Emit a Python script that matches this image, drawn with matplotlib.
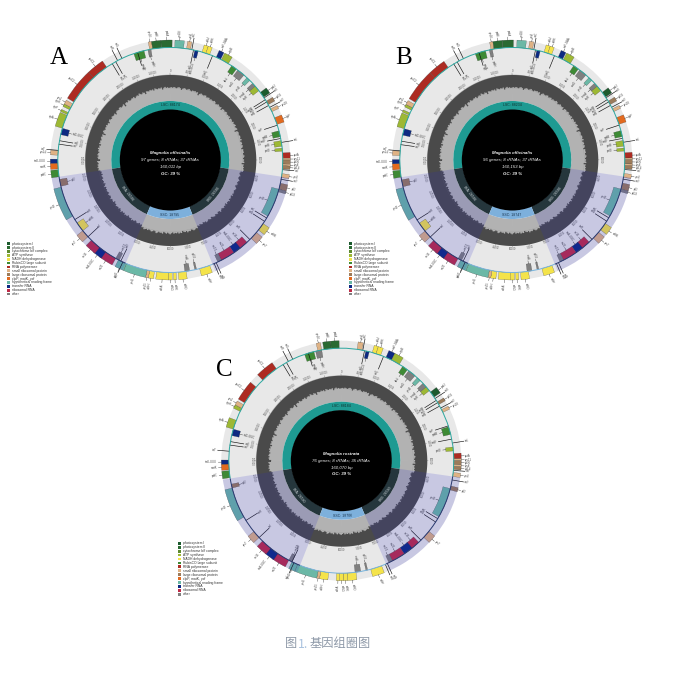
import numpy as np
import matplotlib
matplotlib.use("Agg")
import matplotlib.pyplot as plt

nan = float("nan")

legend_labels = ["photosystem I", "photosystem II", "cytochrome b/f complex", "ATP synthase",
                 "NADH dehydrogenase", "RubisCO large subunit", "RNA polymerase",
                 "small ribosomal protein", "large ribosomal protein", "clpP, matK, ycf",
                 "hypothetical reading frame", "transfer RNA", "ribosomal RNA", "other"]
group_codes = ["p1", "p2", "cy", "at", "nd", "rb", "rp", "sr", "lr", "cl", "hy", "tr", "rr", "ot"]
group_colors = ["#1c5a2e", "#2a6a32", "#5d8a2e", "#9db834", "#f4e34a", "#3e8a35", "#ad2b22",
                "#dfb284", "#9c7b5a", "#e26a1f", "#6bb8a6", "#0d2a82", "#bf2b47", "#7f7f7f"]

gene_names = ["rps16", "psbK", "psbA", "ycf68", "rps4", "trnS-GCU", "ndhJ", "ndhK", "trnF-GAA", "atpB",
              "rbcL", "accD", "ycf4", "cemA", "atpE", "psbJ", "rpl33", "rps18", "clpP", "psbB",
              "petB", "petD", "rpoA", "rps11", "rpl36", "rps8", "rpl14", "rps3", "rpl2", "rpl23",
              "ycf2", "ndhB", "rps7", "rrn16", "trnA-UGC", "rrn23", "rrn4.5", "ndhF", "rpl32", "ccsA",
              "ndhD", "ndhE", "ndhG", "ndhA", "ndhH", "rps15", "ycf1", "ycf1", "rrn4.5", "rrn23",
              "trnA-UGC", "rrn16", "rps7", "ndhB", "ycf2", "rpl2", "psbC", "matK", "trnK-UUU", "rps14",
              "trnD-GUC", "atpA", "atpF", "atpH", "rps2", "rpoC2", "rpoC1", "psaA", "psbH"]
gene_groups = ["sr", "p2", "p2", "hy", "sr", "tr", "nd", "nd", "tr", "at",
               "rb", "ot", "hy", "ot", "at", "p1", "lr", "sr", "cl", "rb",
               "at", "at", "rp", "sr", "lr", "sr", "lr", "sr", "lr", "ot",
               "hy", "nd", "sr", "rr", "tr", "rr", "ot", "nd", "ot", "ot",
               "nd", "nd", "nd", "nd", "nd", "sr", "hy", "hy", "ot", "rr",
               "tr", "rr", "sr", "nd", "hy", "lr", "rb", "cl", "tr", "sr",
               "tr", "at", "at", "at", "sr", "rp", "rp", "rb", "ot"]
gene_sides = list("oooooioooo" "iiiiiooooi" "iioooooooo" "iooiiiioii"
                  "ooooooooio" "oooioioooo" "iooooooii")

a_start = [155.3, 156.0, 158.0, 1.0, 3.7, 5.6, 7.3, 8.2, 10.7, 12.0,
           14.7, 16.4, 19.1, 20.9, 21.8, 23.6, 26.0, 28.0, 30.2, 33.3,
           35.6, 37.3, 38.4, 39.6, 40.0, 40.9, 41.3, 43.1, 45.3, 46.7,
           46.7, 55.3, 57.8, 60.9, 62.9, 64.7, 68.0, 70.9, 74.0, 75.6,
           76.4, 78.7, 79.6, 80.4, 83.6, 84.7, 85.3, 90.2, 92.0, 92.9,
           95.6, 97.3, 100.9, 102.7, 106.7, 114.0, 116.2, 118.0, 119.3, 121.1,
           125.8, 127.3, 130.6, 131.8, 132.4, 133.8, 140.9, 151.6, 154.9]
a_end = [156.0, 158.0, 160.4, 3.0, 4.6, 6.4, 8.2, 9.1, 11.8, 13.8,
         16.0, 18.2, 20.0, 21.8, 23.1, 24.9, 26.9, 28.7, 31.8, 34.7,
         36.9, 38.0, 39.6, 40.0, 40.9, 41.3, 42.0, 44.0, 46.7, 47.3,
         53.3, 57.1, 59.6, 63.1, 64.7, 68.0, 68.9, 73.3, 74.4, 76.7,
         78.2, 79.3, 80.4, 83.1, 84.7, 85.3, 90.2, 92.2, 92.9, 96.2,
         97.8, 99.8, 102.7, 104.9, 113.8, 115.6, 117.8, 119.3, 120.2, 122.1,
         127.3, 130.4, 131.1, 132.4, 133.3, 140.9, 144.7, 154.0, 155.6]
b_start = a_start
b_end = a_end
c_start = [154.7, 156.1, 157.8, nan, 3.6, 5.6, 7.1, 8.0, 10.4, 11.8,
           14.7, 16.4, 18.9, 20.7, 21.8, 23.3, 26.0, 28.0, nan, 32.2,
           nan, 36.9, 38.4, 39.6, 40.0, 40.9, 41.3, 42.7, 45.8, nan,
           46.4, nan, 57.3, 60.7, 62.7, 64.9, 68.0, 70.7, 74.0, 75.6,
           76.7, 78.7, 79.6, 80.4, 82.9, 84.7, 85.3, 90.2, 91.6, 92.4,
           95.3, 97.3, 100.9, nan, 106.7, 113.8, 116.2, 118.0, 119.3, nan,
           125.8, 127.3, nan, 131.6, 132.4, 133.8, 140.4, 151.6, 154.2]
c_end = [155.6, 157.8, 159.6, nan, 4.7, 6.4, 8.0, 9.1, 11.8, 13.8,
         16.0, 18.2, 19.8, 21.8, 22.9, 24.7, 26.7, 28.7, nan, 34.0,
         nan, 37.8, 39.6, 40.0, 40.9, 41.3, 42.0, 43.6, 46.7, nan,
         53.3, nan, 59.1, 62.9, 64.9, 68.0, 68.9, 73.3, 74.4, 76.9,
         78.7, 79.6, 80.4, 81.1, 84.7, 85.3, 90.2, 91.6, 92.4, 95.6,
         97.6, 99.8, 102.7, nan, 113.8, 114.7, 117.8, 119.3, 120.2, nan,
         127.3, 129.4, nan, 132.4, 133.3, 138.2, 144.4, 153.8, 155.6]

# small tRNA genes, drawn as thin dark strokes
trna_names = ["trnG", "trnR", "trnC", "trnD", "trnY", "trnE", "trnT", "trnS", "trnfM", "trnG",
              "trnM", "trnV", "trnP", "trnW", "trnL", "trnI", "trnV", "trnL", "trnN", "trnR",
              "trnN", "trnR", "trnL", "trnV", "trnI", "trnH", "trnQ", "trnS", "trnC", "trnT"]
trna_kb = [148.7, 147.6, 147.1, 146.2, 123.6, 124.4, 122.2, 25.1, 25.6, 26.2,
           27.1, 27.6, 32.0, 35.1, 36.0, 42.2, 44.4, 53.8, 54.7, 60.0,
           69.3, 69.8, 91.1, 91.6, 100.9, 105.8, 9.8, 5.3, 4.9, 152.5]
trna_sides = list("ooiiiioOii".lower() + "ioiiooo" + "iii" + "oooiiiiioi")

# height of the GC fill within its ring (percent), one value per degree of the map
gc_lsc_right = [54, 52, 55, 53, 51, 54, 56, 53, 47, 52, 55, 54, 51, 53, 56, 52, 50, 54, 53, 55,
                52, 54, 44, 51, 55, 53, 52, 54, 56, 51, 53, 55, 50, 54, 52, 53, 56, 54, 49, 52,
                55, 53, 51, 54, 46, 53, 55, 52, 54, 56, 51, 53, 52, 55, 48, 54, 53, 51, 55, 52,
                54, 56, 50, 53, 55, 42, 52, 54, 53, 51, 55, 54, 52, 56, 49, 53, 54, 51, 55, 52,
                47, 54, 53, 55, 51, 52, 56, 53, 50, 54, 52, 55, 45, 53, 51, 54, 52, 55, 53]
gc_ir_right = [44, 41, 43, 46, 42, 40, 44, 47, 43, 41, 45, 42, 38, 43, 46, 44, 41, 43, 45, 42,
               46, 40, 43, 44, 41, 47, 43, 42, 45, 39, 44, 42, 46, 43, 41, 44, 48, 42, 40, 45,
               43, 41, 46, 44, 42, 39, 45, 43, 41, 44, 47, 42, 43, 40, 45, 44, 41, 46, 43]
gc_ssc = [52, 50, 53, 55, 51, 49, 54, 52, 56, 50, 53, 51, 47, 54, 52, 55, 50, 53, 51, 54,
          49, 52, 56, 53, 50, 54, 51, 48, 55, 52, 53, 50, 54, 57, 51, 49, 53, 55, 52, 50,
          54, 51, 53, 56, 50, 52]
gc_ir_left = [43, 45, 41, 44, 46, 42, 40, 45, 43, 47, 41, 44, 42, 39, 45, 43, 46, 41, 44, 42,
              48, 43, 40, 45, 42, 44, 46, 41, 43, 38, 45, 44, 42, 47, 43, 41, 44, 46, 40, 43,
              45, 42, 44, 41, 47, 43, 39, 45, 42, 44, 46, 41, 43, 45, 40, 44, 42, 46]
gc_lsc_left = [53, 51, 55, 52, 54, 50, 53, 56, 44, 52, 54, 51, 55, 53, 49, 54, 52, 56, 51, 53,
               47, 55, 52, 54, 50, 53, 55, 51, 54, 42, 52, 56, 53, 50, 54, 52, 55, 51, 53, 48,
               54, 56, 52, 50, 55, 53, 51, 54, 46, 52, 55, 53, 51, 56, 54, 50, 52, 55, 43, 53,
               54, 51, 56, 52, 50, 54, 53, 55, 48, 52, 54, 51, 57, 53, 50, 55, 52, 45, 54, 53,
               51, 55, 52, 54, 49, 56, 53, 51, 54, 52, 55, 47, 53, 56, 52, 54, 51, 53]
gc_percent = gc_lsc_right + gc_ir_right + gc_ssc + gc_ir_left + gc_lsc_left

a_title = ["Magnolia officinalis", "97 genes; 8 rRNAs; 37 tRNAs", "160,011 bp", "GC: 39 %"]
b_title = ["Magnolia officinalis", "96 genes; 8 rRNAs; 37 tRNAs", "160,153 bp", "GC: 39 %"]
c_title = ["Magnolia rostrata", "76 genes; 8 rRNAs; 35 tRNAs", "160,070 bp", "GC: 39 %"]
a_total, b_total, c_total = 160.011, 160.153, 160.070
a_regions = [43.8, 70.2, 90.4, 116.2]
b_regions = [43.8, 70.2, 90.4, 116.2]
c_regions = [43.6, 69.6, 89.6, 116.0]
a_region_labels = ["LSC: 88174", "IRB: 26586", "SSC: 18795", "IRA: 26586"]
b_region_labels = ["LSC: 88234", "IRB: 26586", "SSC: 18747", "IRA: 26586"]
c_region_labels = ["LSC: 88184", "IRB: 26590", "SSC: 18706", "IRA: 26590"]

W, H = 677, 699
HALF = 150.0
fig = plt.figure(figsize=(W / 100, H / 100), dpi=100, facecolor="white")
SANS = "Liberation Sans"

page = fig.add_axes([0, 0, 1, 1])
page.set_xlim(0, W)
page.set_ylim(H, 0)
page.axis("off")


def radial_text(ax, th, r, s, outward, size=2.0, color="#444444"):
    deg = np.degrees(th) % 360
    right = deg < 180
    rot = 90 - deg if right else 270 - deg
    ha = ("left" if right else "right") if outward else ("right" if right else "left")
    ax.text(th, r, s, fontsize=size, color=color, family=SANS, rotation=rot, ha=ha, va="center",
            rotation_mode="anchor")


def tangent_rotation(deg):
    deg = deg % 360
    return -deg if (deg < 90 or deg > 270) else 180 - deg


def panel(cx, cy, total, starts, ends, regions, region_labels, title):
    ax = fig.add_axes([(cx - HALF) / W, 1 - (cy + HALF) / H, 2 * HALF / W, 2 * HALF / H],
                      projection="polar")
    ax.set_theta_zero_location("N")
    ax.set_theta_direction(-1)
    ax.set_rlim(0, HALF)
    ax.axis("off")
    ax.patch.set_alpha(0)
    to_th = lambda kb: np.asarray(kb, dtype=float) / total * 2 * np.pi
    full = 2 * np.pi

    def sector(k0, k1, r0, r1, color, z, **kw):
        t0, t1 = to_th(k0), to_th(k1)
        ax.bar((t0 + t1) / 2, r1 - r0, width=t1 - t0, bottom=r0, color=color, linewidth=0, zorder=z, **kw)

    def annulus(r0, r1, color, z):
        for q in (0.125, 0.375, 0.625, 0.875):
            ax.bar(q * full, r1 - r0, width=full / 4 * 1.005, bottom=r0, color=color, linewidth=0, zorder=z)

    # base bands
    annulus(85.5, 120, "#e8e8e8", 1)
    annulus(59, 85.5, "#b2b2b2", 1)
    # GC as one continuous stepped outline, so adjacent values show no seams
    n = len(gc_percent)
    gc_r = 59 + np.array(gc_percent + gc_percent[:1]) / 100 * 26.5
    gc_th = np.arange(n + 1) * full / n
    ax.fill_between(gc_th, gc_r, np.full(n + 1, 85.5), step="post", color="#4a4a4a", linewidth=0, zorder=2)
    ax.plot(np.linspace(0, full, 361), np.full(361, 72.0), color="#777777", lw=0.25, ls=(0, (1, 2)), zorder=3)
    # kb ticks
    for kb in range(0, int(total), 5):
        th = to_th(kb)
        ax.plot([th, th], [85.5, 86.8], color="#666666", lw=0.25, zorder=3)
        ax.text(th, 89, f"{kb * 1000}", fontsize=1.8, color="#555555", family=SANS, ha="center", va="center",
                rotation=tangent_rotation(np.degrees(th)), rotation_mode="anchor", zorder=3)
    # genes
    for name, g, side, s, e in zip(gene_names, gene_groups, gene_sides, starts, ends):
        if np.isnan(s):
            continue
        col = group_colors[group_codes.index(g)]
        r0, r1 = (112.5, 120) if side == "o" else (105, 112.5)
        t0, t1 = to_th(s), to_th(e)
        mid = (t0 + t1) / 2
        ax.bar(mid, r1 - r0, width=t1 - t0, bottom=r0, color=col, edgecolor="#333333",
               linewidth=0.15, zorder=4)
        if side == "o":
            ax.plot([mid, mid], [120, 123], color="#111111", lw=0.25, zorder=5)
            radial_text(ax, mid, 124, name, True)
        else:
            ax.plot([mid, mid], [105, 102], color="#111111", lw=0.25, zorder=5)
            radial_text(ax, mid, 101, name, False)
    for name, kb, side in zip(trna_names, trna_kb, trna_sides):
        th = to_th(kb)
        if side == "o":
            ax.plot([th, th], [112.5, 124], color="#111111", lw=0.45, zorder=5)
            radial_text(ax, th, 125, name, True, size=1.9)
        else:
            ax.plot([th, th], [112.5, 99], color="#111111", lw=0.45, zorder=5)
            radial_text(ax, th, 98, name, False, size=1.9)
    # IR tint
    ir_b = (regions[0], regions[1])
    ir_a = (regions[2], regions[3])
    for k0, k1 in (ir_b, ir_a):
        sector(k0, k1, 59, 120, "#2828c8", 6, alpha=0.165)
    # scale circle
    sector(regions[3], total + regions[0], 112, 113, "#2fa8a0", 7)
    for k0, k1 in (ir_b, ir_a):
        sector(k0, k1, 112, 113, "#2a3a70", 7)
    sector(regions[1], regions[2], 112, 113, "#79b4dc", 7)
    # region ring
    sector(regions[3], total + regions[0], 50, 59, "#1e9a92", 8)
    for k0, k1 in (ir_b, ir_a):
        sector(k0, k1, 50, 59, "#25363c", 8)
    sector(regions[1], regions[2], 50, 59, "#7db0dc", 8)
    ax.bar(np.pi, 50.5, width=full, bottom=0, color="black", linewidth=0, zorder=9)
    # region labels
    mids = [0.0, sum(ir_b) / 2, (regions[1] + regions[2]) / 2, sum(ir_a) / 2]
    cols = ["#10302e", "#c8d0d4", "#14304a", "#c8d0d4"]
    for lab, m, c in zip(region_labels, mids, cols):
        th = to_th(m)
        ax.text(th, 55, lab, fontsize=2.5, color=c, family=SANS, ha="center", va="center", zorder=10,
                rotation=tangent_rotation(np.degrees(th)), rotation_mode="anchor")
    # centre text
    for txt, dy, w in zip(title, (-6.7, 0.3, 7.0, 13.7), ("bold", "normal", "normal", "bold")):
        page.text(cx, cy + dy, txt, fontsize=3.2, color="#f0f0f0", family=SANS, style="italic",
                  weight=w, ha="center", va="center", zorder=20)
    ax.set_zorder(1)
    return ax


panel(170.3, 160.0, a_total, a_start, a_end, a_regions, a_region_labels, a_title)
panel(512.3, 160.0, b_total, b_start, b_end, b_regions, b_region_labels, b_title)
panel(341.3, 460.7, c_total, c_start, c_end, c_regions, c_region_labels, c_title)
page.set_zorder(2)
page.patch.set_alpha(0)


def legend(x, y0, y1):
    ys = np.linspace(y0, y1, len(legend_labels))
    for y, lab, col in zip(ys, legend_labels, group_colors):
        page.add_patch(plt.Rectangle((x, y - 1.4), 2.9, 2.8, color=col, linewidth=0))
        page.text(x + 5, y, lab, fontsize=2.4, color="#333333", family=SANS, ha="left", va="center")


legend(7.3, 243.7, 294.0)
legend(349.0, 243.7, 294.0)
legend(178.0, 543.3, 594.3)

for letter, x, y in (("A", 58.5, 58.0), ("B", 403.5, 57.5), ("C", 224.5, 370.5)):
    page.text(x, y, letter, fontsize=18, color="black", family="Liberation Serif", ha="center", va="center")

cap = ["Noto Sans CJK SC", "DejaVu Sans"]
page.text(285.5, 644, "图", fontsize=8.8, color="#8e99a8", family=cap, ha="left", va="center")
page.text(297.7, 644, "1.", fontsize=8.8, color="#a9c2de", family=cap, ha="left", va="center")
page.text(370.5, 644, "基因组圈图", fontsize=8.8, color="#8e99a8", family=cap, ha="right", va="center")

fig.savefig("out.png", dpi=100, facecolor="white")
